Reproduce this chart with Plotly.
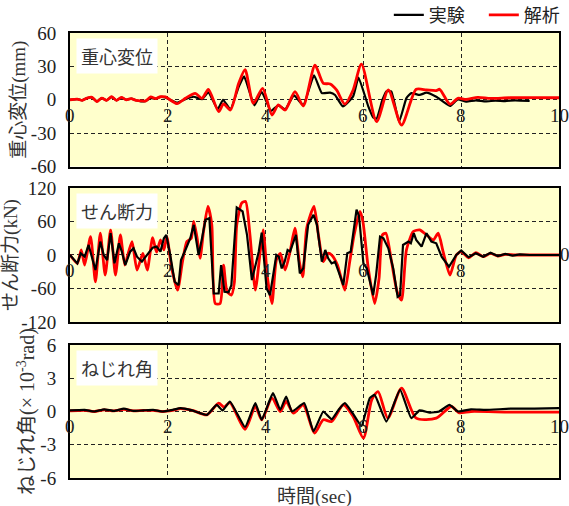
import plotly.graph_objects as go

# ---------------- data ----------------
# Panel 1: 重心変位 (mm)
disp_exp_t = [0, 0.15, 0.25, 0.35, 0.45, 0.55, 0.65, 0.75, 0.85, 0.95, 1.05, 1.15, 1.25, 1.35, 1.45, 1.55,
              1.65, 1.75, 1.85, 1.95, 2.05, 2.19, 2.36, 2.53, 2.7, 2.83, 3.02, 3.13, 3.28, 3.45, 3.56, 3.77,
              3.92, 4.11, 4.26, 4.40, 4.58, 4.77, 4.99, 5.15, 5.32, 5.42, 5.58, 5.79, 5.90, 6.1, 6.2, 6.27,
              6.39, 6.47, 6.57, 6.73, 6.88, 6.98, 7.15, 7.29, 7.49, 7.77, 7.93, 8.1, 8.3, 8.5, 8.7, 8.9,
              9.1, 9.4]
disp_exp = [0, 0.5, -0.5, 1.5, 2.0, -1.5, 1.5, -0.5, 2.5, -0.5, 2.0, 0, 1.0, -0.5, -1.5, -1.0,
            1.5, 1.0, 2.5, 2.0, 0, -2.6, 0.5, 2.7, 0.5, 6.7, -8.6, 0, -8.6, 11.7, 21, -5,
            7, -10, -5, -8.6, 4, -5, 22, 6, 6.4, 4.3, -6, 3, 20, -6, -16, -17,
            0, 7.5, 7.5, -19.7, 1.5, 6, 4.3, 6.4, 2.7, -5.6, 0.4, -1.6, -0.5, -1.5, -0.8, -1.2,
            -0.5, -1.0]
disp_ana_t = [0, 0.15, 0.25, 0.35, 0.45, 0.55, 0.65, 0.75, 0.85, 0.95, 1.05, 1.15, 1.25, 1.35, 1.45, 1.55,
              1.65, 1.75, 1.85, 1.95, 2.19, 2.36, 2.56, 2.70, 2.83, 3.04, 3.14, 3.28, 3.45, 3.58, 3.75, 3.94,
              4.13, 4.26, 4.40, 4.60, 4.77, 5.01, 5.18, 5.32, 5.45, 5.62, 5.79, 5.96, 6.27, 6.51, 6.78, 7.08,
              7.29, 7.49, 7.56, 7.77, 7.93, 8.1, 8.34, 8.6, 9.0, 10]
disp_ana = [0, 0.5, -0.5, 1.5, 2.2, -1.7, 1.5, -0.5, 2.7, -0.5, 2.2, 0, 1.0, -0.5, -1.0, -1.0,
            2.5, 1.0, 2.7, 2.5, -3.5, 1.3, 5.8, 1.3, 9.4, -10.7, -3.7, -9.2, 14.8, 27, -3.2, 10.3,
            -13.7, -4.7, -9.2, 7.3, -5.6, 31, 14.8, 14.2, 8.8, -3.9, 8.8, 32, -19.7, 8.8, -22.7, 9.4,
            8.8, 8.2, 9.4, -4, 1.3, 0.4, 2.2, 1.2, 1.8, 1.8]

# Panel 2: せん断力 (kN)
shear_exp_t = [0, 0.15, 0.22, 0.30, 0.38, 0.52, 0.62, 0.69, 0.76, 0.83, 0.91, 1.0, 1.06, 1.13, 1.23, 1.3,
               1.37, 1.47, 1.6, 1.69, 1.77, 1.85, 1.92, 1.97, 2.05, 2.14, 2.22, 2.27, 2.36, 2.46, 2.53, 2.63,
               2.7, 2.77, 2.85, 2.94, 3.04, 3.09, 3.16, 3.24, 3.30, 3.41, 3.53, 3.62, 3.72, 3.86, 3.92, 4.02,
               4.09, 4.16, 4.22, 4.27, 4.33, 4.39, 4.45, 4.5, 4.62, 4.70, 4.77, 4.87, 4.98, 5.05, 5.15, 5.22,
               5.28, 5.35, 5.42, 5.59, 5.67, 5.74, 5.86, 5.91, 6.0, 6.07, 6.2, 6.26, 6.34, 6.41, 6.51, 6.61,
               6.7, 6.75, 6.81, 6.92, 6.97, 7.03, 7.08, 7.19, 7.29, 7.39, 7.49, 7.6, 7.75, 7.9, 8.0, 8.15,
               8.3, 8.45, 8.6, 8.75, 8.9, 9.05, 9.2, 9.4, 9.6, 9.8, 10]
shear_exp = [0, -15, 3, -3, 18, -27, 24, 0, -9, 39, -15, 21, 6, -18, 6, 12,
             -3, -12, 3, 13, 15, 6, 30, 36, 0, -48, -54, -9, 9, 30, 54, 0,
             30, 63, 66, -69, -69, -18, -66, -67, -54, 85, 78, 36, -45, 6, 40, -60,
             -72, -36, 0, -3, -24, -12, 9, 6, 36, -33, -24, 54, 72, 54, -12, 9,
             -6, -15, -12, -54, 3, 6, 81, 70, -15, -24, -72, -36, 33, 30, 12, -24,
             -75, -72, 18, 24, 21, 39, 27, 15, 39, 24, 21, -3, -21, 0, 8, -4,
             3, -3, 4, -2, 2, -1, 1, 0, 0.5, 0, 0]
shear_ana_t = [0, 0.15, 0.23, 0.30, 0.42, 0.52, 0.62, 0.72, 0.83, 0.93, 1.03, 1.12, 1.2, 1.27, 1.37, 1.49,
               1.58, 1.69, 1.77, 1.85, 1.92, 1.98, 2.08, 2.2, 2.3, 2.39, 2.48, 2.53, 2.6, 2.66, 2.73, 2.82,
               2.9, 2.97, 3.07, 3.14, 3.21, 3.3, 3.36, 3.41, 3.51, 3.59, 3.68, 3.79, 3.89, 3.95, 4.04, 4.13,
               4.22, 4.3, 4.4, 4.5, 4.6, 4.69, 4.76, 4.84, 4.99, 5.08, 5.18, 5.28, 5.35, 5.47, 5.62, 5.72,
               5.81, 5.93, 5.99, 6.1, 6.23, 6.32, 6.39, 6.46, 6.57, 6.69, 6.78, 6.88, 7.02, 7.15, 7.29, 7.43,
               7.53, 7.63, 7.77, 7.9, 8.0, 8.15, 8.3, 8.45, 8.6, 8.75, 8.9, 9.1, 9.4, 10]
shear_ana = [0, -15, 9, -18, 33, -48, 39, -36, 45, -36, 36, -18, 6, 24, -27, 3,
             -27, 31, 5, 27, 9, 33, -24, -63, -12, 24, 30, 60, 30, -6, 42, 87,
             54, -87, -87, -18, -65, -72, -50, 54, 93, 96, 36, -63, 6, 45, -42, -87,
             -9, 3, -27, 6, 48, -12, -39, 48, 87, 36, -12, 3, 0, -18, -63, -12,
             36, 78, 60, -24, -87, -42, 36, 39, -9, -66, -81, 9, 42, 45, 36, 27,
             39, 6, -36, 0, 6, -5, 4, -3, 3, -2, 1, 0, 0, 0]

# Panel 3: ねじれ角 (x10^-3 rad)
twist_exp_t = [0, 0.3, 0.5, 0.7, 0.9, 1.1, 1.3, 1.5, 1.7, 1.9, 2.1, 2.26, 2.5, 2.8, 3.0, 3.12,
               3.27, 3.58, 3.79, 3.92, 4.15, 4.3, 4.42, 4.54, 4.79, 4.98, 5.18, 5.35, 5.5, 5.62, 5.78, 5.96,
               6.13, 6.23, 6.47, 6.75, 6.98, 7.15, 7.36, 7.55, 7.76, 7.94, 8.2, 8.5, 9.0, 9.5, 10]
twist_exp = [0.1, 0.15, 0.0, 0.2, 0.05, 0.25, 0.05, 0.1, 0.15, 0.0, 0.15, 0.3, 0.1, -0.3, 0.6, 0.1,
             0.9, -1.4, 0.75, -0.75, 1.65, 0.15, 1.35, 0, 0.75, -1.8, 0, -0.7, 0.2, 0.75, -0.15, -1.3,
             1.2, 1.5, -0.9, 1.95, -0.6, 0.1, -0.1, 0, 0.6, 0, 0.2, 0.15, 0.25, 0.25, 0.3]
twist_ana_t = [0, 0.3, 0.5, 0.7, 0.9, 1.1, 1.3, 1.5, 1.7, 1.9, 2.1, 2.26, 2.5, 2.8, 3.04, 3.15,
               3.27, 3.58, 3.79, 3.92, 4.13, 4.3, 4.42, 4.57, 4.77, 5.0, 5.18, 5.35, 5.59, 5.79, 6.0, 6.17,
               6.3, 6.5, 6.78, 7.08, 7.49, 7.8, 7.95, 8.2, 9.0, 10]
twist_ana = [0.05, 0.1, 0.0, 0.15, 0.05, 0.2, 0.05, 0.1, 0.1, 0.0, 0.1, 0.25, 0.1, -0.3, 0.75, 0.4,
             0.8, -1.6, 0.45, -0.75, 1.2, 0, 0.9, -0.15, 0.6, -1.95, -0.75, -0.9, 0.6, -0.45, -2.4, 1.05,
             1.8, -0.6, 2.1, -0.6, -0.6, 0.45, -0.1, 0, -0.05, -0.05]

x_ticks = [0, 2, 4, 6, 8, 10]
x_tick_labels = ["0", "2", "4", "6", "8", "10"]
y1_ticks = [-60, -30, 0, 30, 60]
y2_ticks = [-120, -60, 0, 60, 120]
y3_ticks = [-6, -3, 0, 3, 6]
panel_names = ["重心変位", "せん断力", "ねじれ角"]
y_titles = ["重心変位(mm)", "せん断力(kN)", "ねじれ角(× 10<sup>-3</sup>rad)"]
series_names = ["実験", "解析"]

# ---------------- figure ----------------
SERIF = "Liberation Serif, Noto Sans CJK JP"
CJK = "Noto Sans CJK JP"
BLACK = "#000000"
RED = "#FF0000"

fig = go.Figure()

# panel 1: black under red
fig.add_trace(go.Scatter(x=disp_exp_t, y=disp_exp, mode="lines", name=series_names[0],
                         line=dict(color=BLACK, width=2.2, shape="spline", smoothing=0.4), xaxis="x", yaxis="y"))
fig.add_trace(go.Scatter(x=disp_ana_t, y=disp_ana, mode="lines", name=series_names[1],
                         line=dict(color=RED, width=2.8, shape="spline", smoothing=0.7), xaxis="x", yaxis="y"))
# panel 2: red under black
fig.add_trace(go.Scatter(x=shear_ana_t, y=shear_ana, mode="lines", showlegend=False,
                         line=dict(color=RED, width=2.8, shape="spline", smoothing=0.6), xaxis="x2", yaxis="y2"))
fig.add_trace(go.Scatter(x=shear_exp_t, y=shear_exp, mode="lines", showlegend=False,
                         line=dict(color=BLACK, width=2.2), xaxis="x2", yaxis="y2"))
# panel 3: red under black
fig.add_trace(go.Scatter(x=twist_ana_t, y=twist_ana, mode="lines", showlegend=False,
                         line=dict(color=RED, width=2.8, shape="spline", smoothing=0.7), xaxis="x3", yaxis="y3"))
fig.add_trace(go.Scatter(x=twist_exp_t, y=twist_exp, mode="lines", showlegend=False,
                         line=dict(color=BLACK, width=2.2, shape="spline", smoothing=0.4), xaxis="x3", yaxis="y3"))

domains = [[0.700, 1.0], [0.3506, 0.6517], [0.0, 0.2989]]
yticks = [y1_ticks, y2_ticks, y3_ticks]

common_x = dict(range=[0, 10], tickvals=x_ticks, showticklabels=False, showgrid=True,
                gridcolor="#222", griddash="4px,3px", gridwidth=1, zeroline=False, automargin=False,
                showline=True, mirror=True, linecolor=BLACK, linewidth=2, ticks="")

layout = dict(
    width=569, height=506,
    margin=dict(l=70, r=10, t=33, b=28, autoexpand=False),
    paper_bgcolor="white", plot_bgcolor="#FFFFCC",
    showlegend=True,
    legend=dict(orientation="h", x=0.652, xanchor="left", y=1.04, yanchor="middle",
                entrywidth=50, entrywidthmode="pixels",
                font=dict(family=CJK, size=18, color="#222"), bgcolor="rgba(0,0,0,0)"),
    font=dict(family=SERIF, color="#222"),
)

annotations = []
for i in range(3):
    n = "" if i == 0 else str(i + 1)
    layout["xaxis" + n] = dict(common_x, domain=[0, 1], anchor="y" + n)
    layout["yaxis" + n] = dict(
        domain=domains[i], anchor="x" + n, range=[yticks[i][0], yticks[i][-1]],
        tickvals=yticks[i], ticktext=[str(v) for v in yticks[i]],
        showgrid=True, gridcolor="#222", griddash="4px,3px", gridwidth=1, zeroline=False,
        showline=True, mirror=True, linecolor=BLACK, linewidth=2, ticks="", automargin=False,
        ticklabelstandoff=8,
        tickfont=dict(family="Liberation Serif", size=19, color="#222"),
        title=dict(text=y_titles[i], font=dict(family=SERIF, size=20 if i == 2 else 19, color="#333"),
                   standoff=0),
    )
    # x tick labels sitting just below the zero line (panel 2 has no "10")
    for v, lab in zip(x_ticks, x_tick_labels):
        if i == 1 and v == 10:
            continue
        annotations.append(dict(x=v, y=0, xref="x" + n, yref="y" + n, text=lab, showarrow=False,
                                yanchor="top", xanchor="center", yshift=-3,
                                font=dict(family="Liberation Serif", size=19, color="#222")))
    # panel label box
    annotations.append(dict(x=0.012, y=0.965, xref="x" + n + " domain", yref="y" + n + " domain",
                            text=panel_names[i], showarrow=False, xanchor="left", yanchor="top",
                            bgcolor="white", borderpad=4,
                            font=dict(family=CJK, size=18, color="#333")))

# right-side "0" label on the middle panel
annotations.append(dict(x=1, y=0, xref="x2 domain", yref="y2", text="0", showarrow=False,
                        xanchor="left", yanchor="middle", xshift=-1,
                        font=dict(family="Liberation Serif", size=19, color="#222")))
# x-axis title
annotations.append(dict(x=0.5, y=0, xref="paper", yref="paper", yshift=-6, text="時間(sec)",
                        showarrow=False, xanchor="center", yanchor="top",
                        font=dict(family=SERIF, size=19, color="#333")))
layout["annotations"] = annotations
fig.update_layout(**layout)

fig.write_html("out.html")
